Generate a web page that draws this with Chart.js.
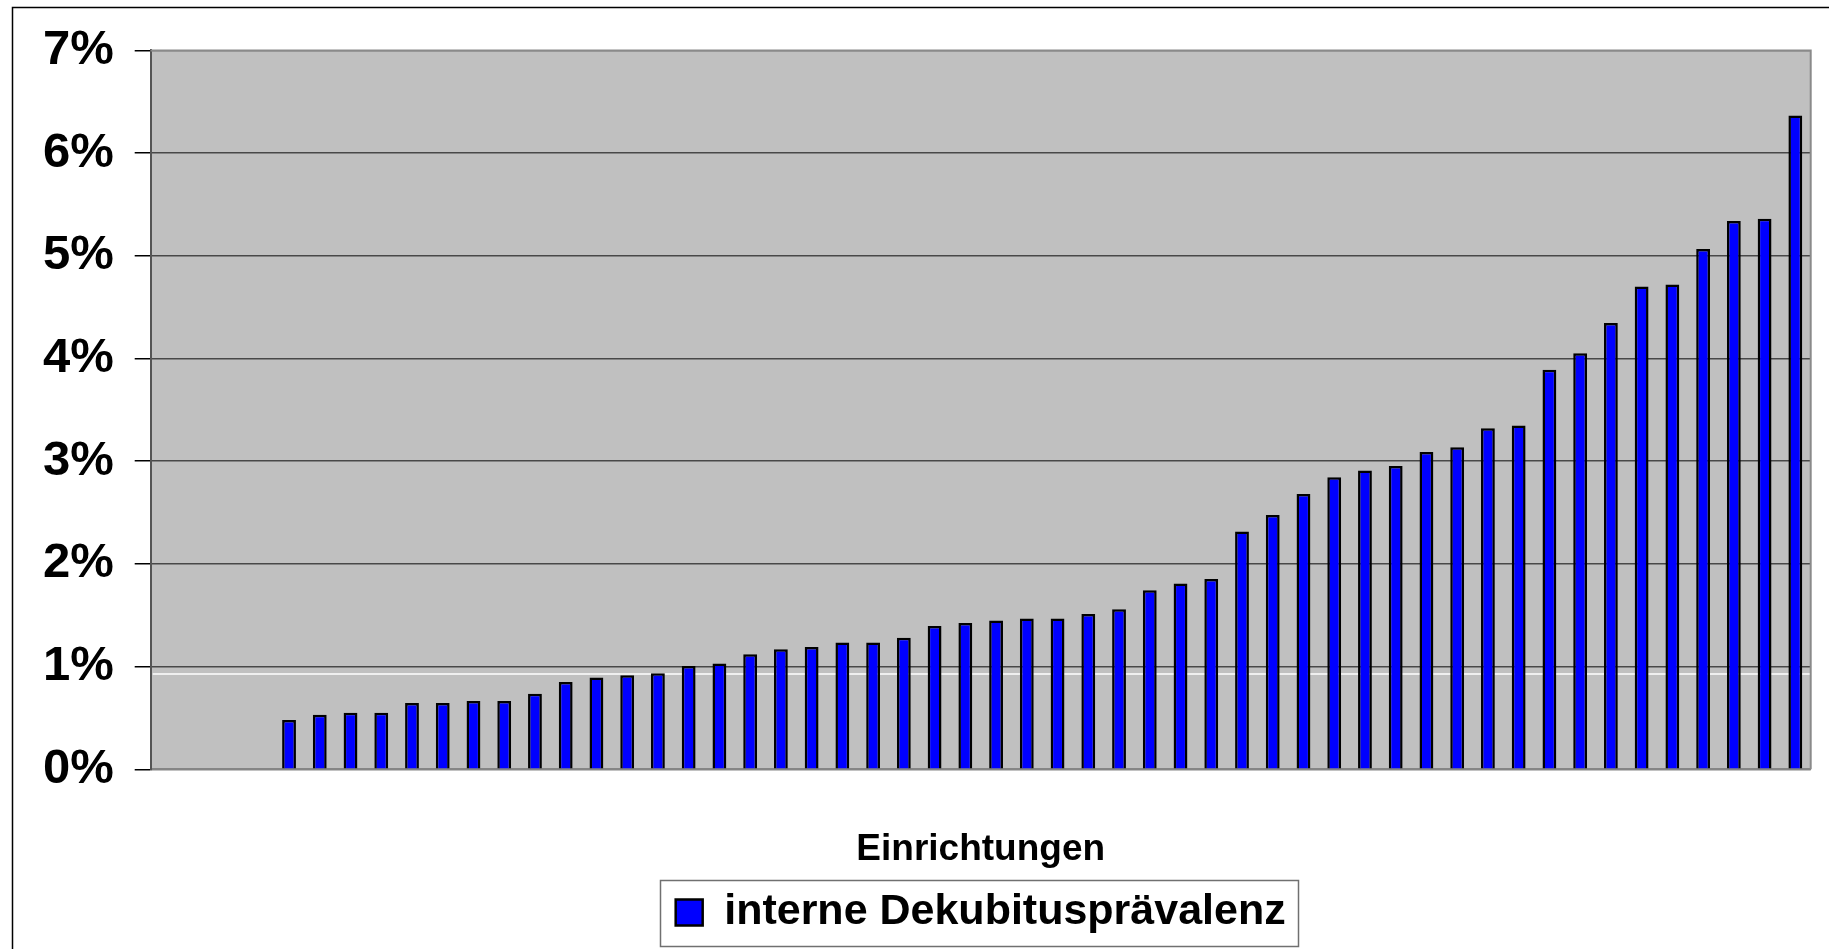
<!DOCTYPE html>
<html>
<head>
<meta charset="utf-8">
<script src="https://cdn.jsdelivr.net/npm/chart.js@4.4.1/dist/chart.umd.min.js"></script>
<style>
html,body{margin:0;padding:0;background:#fff;}
#wrap{width:1829px;height:949px;position:relative;}
</style>
</head>
<body>
<div id="wrap"><canvas id="c"></canvas></div>
<script>
const categories = ["1","2","3","4","5","6","7","8","9","10","11","12","13","14","15","16","17","18","19","20","21","22","23","24","25","26","27","28","29","30","31","32","33","34","35","36","37","38","39","40","41","42","43","44","45","46","47","48","49","50","51","52","53","54"];
const seriesName = "interne Dekubitusprävalenz";
const prevalence = [null, null, null, null,
  0.48, 0.53, 0.55, 0.55, 0.645, 0.645, 0.665, 0.665, 0.735, 0.85,
  0.895, 0.915, 0.935, 1.005, 1.03, 1.12, 1.17, 1.19, 1.235, 1.235,
  1.28, 1.395, 1.425, 1.448, 1.468, 1.468, 1.513, 1.558, 1.743, 1.81,
  1.854, 2.315, 2.477, 2.68, 2.844, 2.909, 2.954, 3.09, 3.136, 3.32,
  3.347, 3.89, 4.05, 4.345, 4.70, 4.72, 5.065, 5.34, 5.36, 6.367];
const yTickLabels = ["0%", "1%", "2%", "3%", "4%", "5%", "6%", "7%"];
const referenceLevel = [0.928];
const xTitle = "Einrichtungen";

const FONT = '"Liberation Sans", Arial, Helvetica, sans-serif';

const decor = {
  id: 'decor',
  beforeDraw(chart) {
    const {ctx, chartArea: a} = chart;
    ctx.save();
    ctx.fillStyle = '#fff';
    ctx.fillRect(0, 0, chart.width, chart.height);
    ctx.fillStyle = '#C0C0C0';
    ctx.fillRect(a.left, a.top, a.right - a.left, a.bottom - a.top);
    ctx.strokeStyle = '#000';
    ctx.lineWidth = 1.5;
    ctx.strokeRect(12.5, 7.5, chart.width + 20, chart.height + 20);
    ctx.restore();
  },
  beforeDatasetsDraw(chart) {
    const {ctx, chartArea: a, scales: {y}} = chart;
    ctx.save();
    ctx.strokeStyle = '#fff';
    ctx.lineWidth = 1.3;
    referenceLevel.forEach(v => {
      const py = y.getPixelForValue(v);
      ctx.beginPath();
      ctx.moveTo(a.left + 2, py);
      ctx.lineTo(a.right, py);
      ctx.stroke();
    });
    ctx.restore();
  },
  afterDraw(chart) {
    const {ctx, chartArea: a, legend} = chart;
    ctx.save();
    ctx.strokeStyle = '#8a8a8a';
    ctx.lineWidth = 2;
    ctx.beginPath();
    ctx.moveTo(a.left, a.top);
    ctx.lineTo(a.right, a.top);
    ctx.lineTo(a.right, a.bottom);
    ctx.stroke();
    const hb = legend && legend.legendHitBoxes && legend.legendHitBoxes[0];
    if (hb) {
      const cy = hb.top + hb.height / 2;
      ctx.strokeStyle = '#707070';
      ctx.lineWidth = 1.5;
      ctx.strokeRect(Math.round(hb.left - 16) + 0.5, Math.round(cy - 33) + 0.5, Math.round(hb.width + 28), 66);
    }
    ctx.restore();
  }
};

new Chart(document.getElementById('c'), {
  type: 'bar',
  data: {
    labels: categories,
    datasets: [{
      label: seriesName,
      data: prevalence,
      backgroundColor: '#0000FF',
      borderColor: '#000000',
      borderWidth: 2.5,
      barPercentage: 0.45,
      categoryPercentage: 1
    }]
  },
  options: {
    responsive: true,
    maintainAspectRatio: false,
    animation: false,
    devicePixelRatio: 1,
    layout: {padding: {left: 0, right: 18.3, top: 49.3, bottom: 5}},
    plugins: {
      legend: {
        position: 'bottom',
        fullSize: false,
        align: 'center',
        labels: {
          font: {family: FONT, size: 43, weight: 'bold'},
          color: '#000',
          boxWidth: 27,
          boxHeight: 26,
          padding: 10
        }
      },
      tooltip: {enabled: false}
    },
    scales: {
      x: {
        grid: {display: false},
        border: {display: true, color: '#858585', width: 2},
        ticks: {display: false},
        title: {
          display: true,
          text: xTitle,
          color: '#000',
          font: {family: FONT, size: 37, weight: 'bold'},
          padding: {top: 0, bottom: 9}
        },
        afterFit(s) { s.height = 111.7; }
      },
      y: {
        min: 0,
        max: 7,
        ticks: {
          stepSize: 1,
          callback: (v) => yTickLabels[v],
          font: {family: FONT, size: 49, weight: 'bold'},
          color: '#000',
          padding: 21
        },
        grid: {
          color: (ctx) => (ctx.tick && ctx.tick.value === 0) ? '#858585' : (ctx.tick && ctx.tick.value === 7 ? '#8a8a8a' : '#484848'),
          lineWidth: 1.5,
          tickLength: 16,
          tickColor: '#000',
          tickWidth: 1.5
        },
        border: {color: '#555', width: 2},
        afterFit(s) { s.width = 150.7; }
      }
    }
  },
  plugins: [decor]
});
</script>
</body>
</html>
